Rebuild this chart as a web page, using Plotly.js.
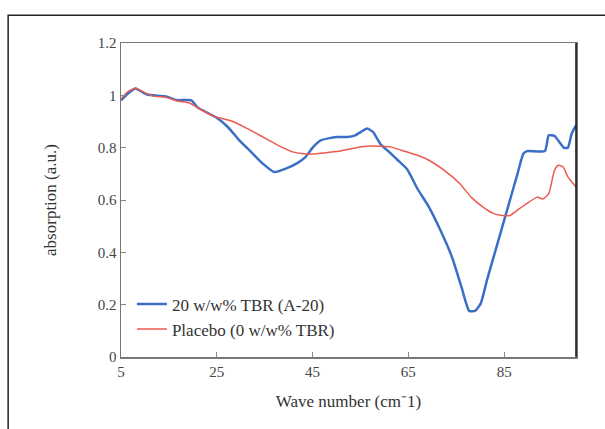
<!DOCTYPE html>
<html>
<head>
<meta charset="utf-8">
<script src="https://cdn.plot.ly/plotly-3.0.1.min.js"></script>
<style>html,body{margin:0;padding:0;background:#fff;}#chart{width:605px;height:429px;}</style>
</head>
<body>
<div id="chart"></div>
<script>
const blueX = [5, 6.4, 8, 10.4, 14.4, 16.5, 19.7, 20.9, 24.9, 27.3, 29.7, 32.2, 34.6, 37, 39.4, 41.8, 43.5, 45.1, 46.7, 49.9, 52.3, 53.9, 56.4, 57.6, 59.2, 61.2, 62.8, 64.8, 66.9, 69.3, 71.7, 74.1, 76.1, 77.7, 78.9, 80.1, 81.4, 83, 84.6, 86.2, 87.8, 89, 89.8, 93.5, 94.3, 95.5, 97.5, 98.3, 99.1, 100];
const blueY = [0.981, 1.006, 1.026, 1.003, 0.996, 0.982, 0.981, 0.955, 0.915, 0.879, 0.828, 0.783, 0.739, 0.707, 0.720, 0.741, 0.764, 0.802, 0.828, 0.841, 0.841, 0.847, 0.873, 0.860, 0.813, 0.780, 0.752, 0.716, 0.643, 0.573, 0.484, 0.382, 0.267, 0.176, 0.176, 0.204, 0.293, 0.395, 0.497, 0.599, 0.701, 0.777, 0.787, 0.787, 0.847, 0.845, 0.799, 0.800, 0.854, 0.885];
const redX = [5, 6.4, 8, 9.6, 12, 14.4, 16.8, 19.3, 21.7, 24.9, 28.1, 31.4, 34.6, 37.8, 41, 44.3, 47.5, 50.7, 53.9, 57.2, 61.2, 63.6, 66.9, 69.3, 72.5, 75.7, 78.1, 80.6, 82.6, 84.6, 86.2, 88.2, 90.2, 91.9, 93.1, 94.3, 95.5, 96.3, 97.3, 98.3, 100];
const redY = [0.987, 1.013, 1.028, 1.013, 0.996, 0.993, 0.978, 0.971, 0.945, 0.917, 0.902, 0.873, 0.841, 0.809, 0.783, 0.775, 0.780, 0.787, 0.799, 0.806, 0.803, 0.790, 0.771, 0.752, 0.713, 0.663, 0.611, 0.573, 0.550, 0.541, 0.541, 0.567, 0.592, 0.611, 0.604, 0.624, 0.713, 0.733, 0.727, 0.688, 0.650];
const seriesNames = ["20 w/w% TBR (A-20)", "Placebo (0 w/w% TBR)"];
const xTicks = [5, 25, 45, 65, 85];
const yTicks = [0, 0.2, 0.4, 0.6, 0.8, 1, 1.2];

const fam = "Liberation Serif, Times New Roman, serif";
const traces = [
  {x: blueX, y: blueY, name: seriesNames[0], type: "scatter", mode: "lines",
   line: {color: "#3b6fc6", width: 2.5, shape: "spline", smoothing: 0.5}},
  {x: redX, y: redY, name: seriesNames[1], type: "scatter", mode: "lines",
   line: {color: "#ec5a4f", width: 1.5, shape: "spline", smoothing: 0.5}}
];
const layout = {
  width: 605, height: 429,
  margin: {l: 121, r: 29, t: 43, b: 72},
  paper_bgcolor: "#fff", plot_bgcolor: "#fff",
  font: {family: fam, size: 15, color: "#444"},
  showlegend: true,
  legend: {x: 0.024, y: 0.225, xanchor: "left", yanchor: "top", bgcolor: "rgba(0,0,0,0)",
           font: {family: fam, size: 17, color: "#333"}, tracegroupgap: 0},
  xaxis: {range: [5, 100], tickvals: xTicks, ticktext: xTicks.map(String),
          showgrid: false, zeroline: false, showline: true, mirror: true, linecolor: "#777", linewidth: 1.5,
          ticks: "inside", ticklen: 5, tickcolor: "#888",
          tickfont: {family: fam, size: 15, color: "#444"},
          title: {text: "Wave number (cm⁻1)", font: {family: fam, size: 17, color: "#333"}, standoff: 16}},
  yaxis: {range: [0, 1.2], tickvals: yTicks, ticktext: yTicks.map(String),
          showgrid: false, zeroline: false, showline: true, mirror: true, linecolor: "#777", linewidth: 1.5,
          ticks: "inside", ticklen: 5, tickcolor: "#888",
          tickfont: {family: fam, size: 15, color: "#444"},
          title: {text: "absorption (a.u.)", font: {family: fam, size: 17, color: "#333"}, standoff: 37}},
  shapes: [
    {type: "line", xref: "paper", yref: "paper", x0: 1, x1: 1, y0: 0, y1: 1,
     line: {color: "#111", width: 1.5}},
    {type: "rect", xref: "paper", yref: "paper", x0: -0.248, x1: 1.2, y0: -0.4, y1: 1.088,
     line: {color: "#222", width: 1.5}, fillcolor: "rgba(0,0,0,0)"}
  ]
};
Plotly.newPlot("chart", traces, layout, {staticPlot: true, displayModeBar: false});
</script>
</body>
</html>
